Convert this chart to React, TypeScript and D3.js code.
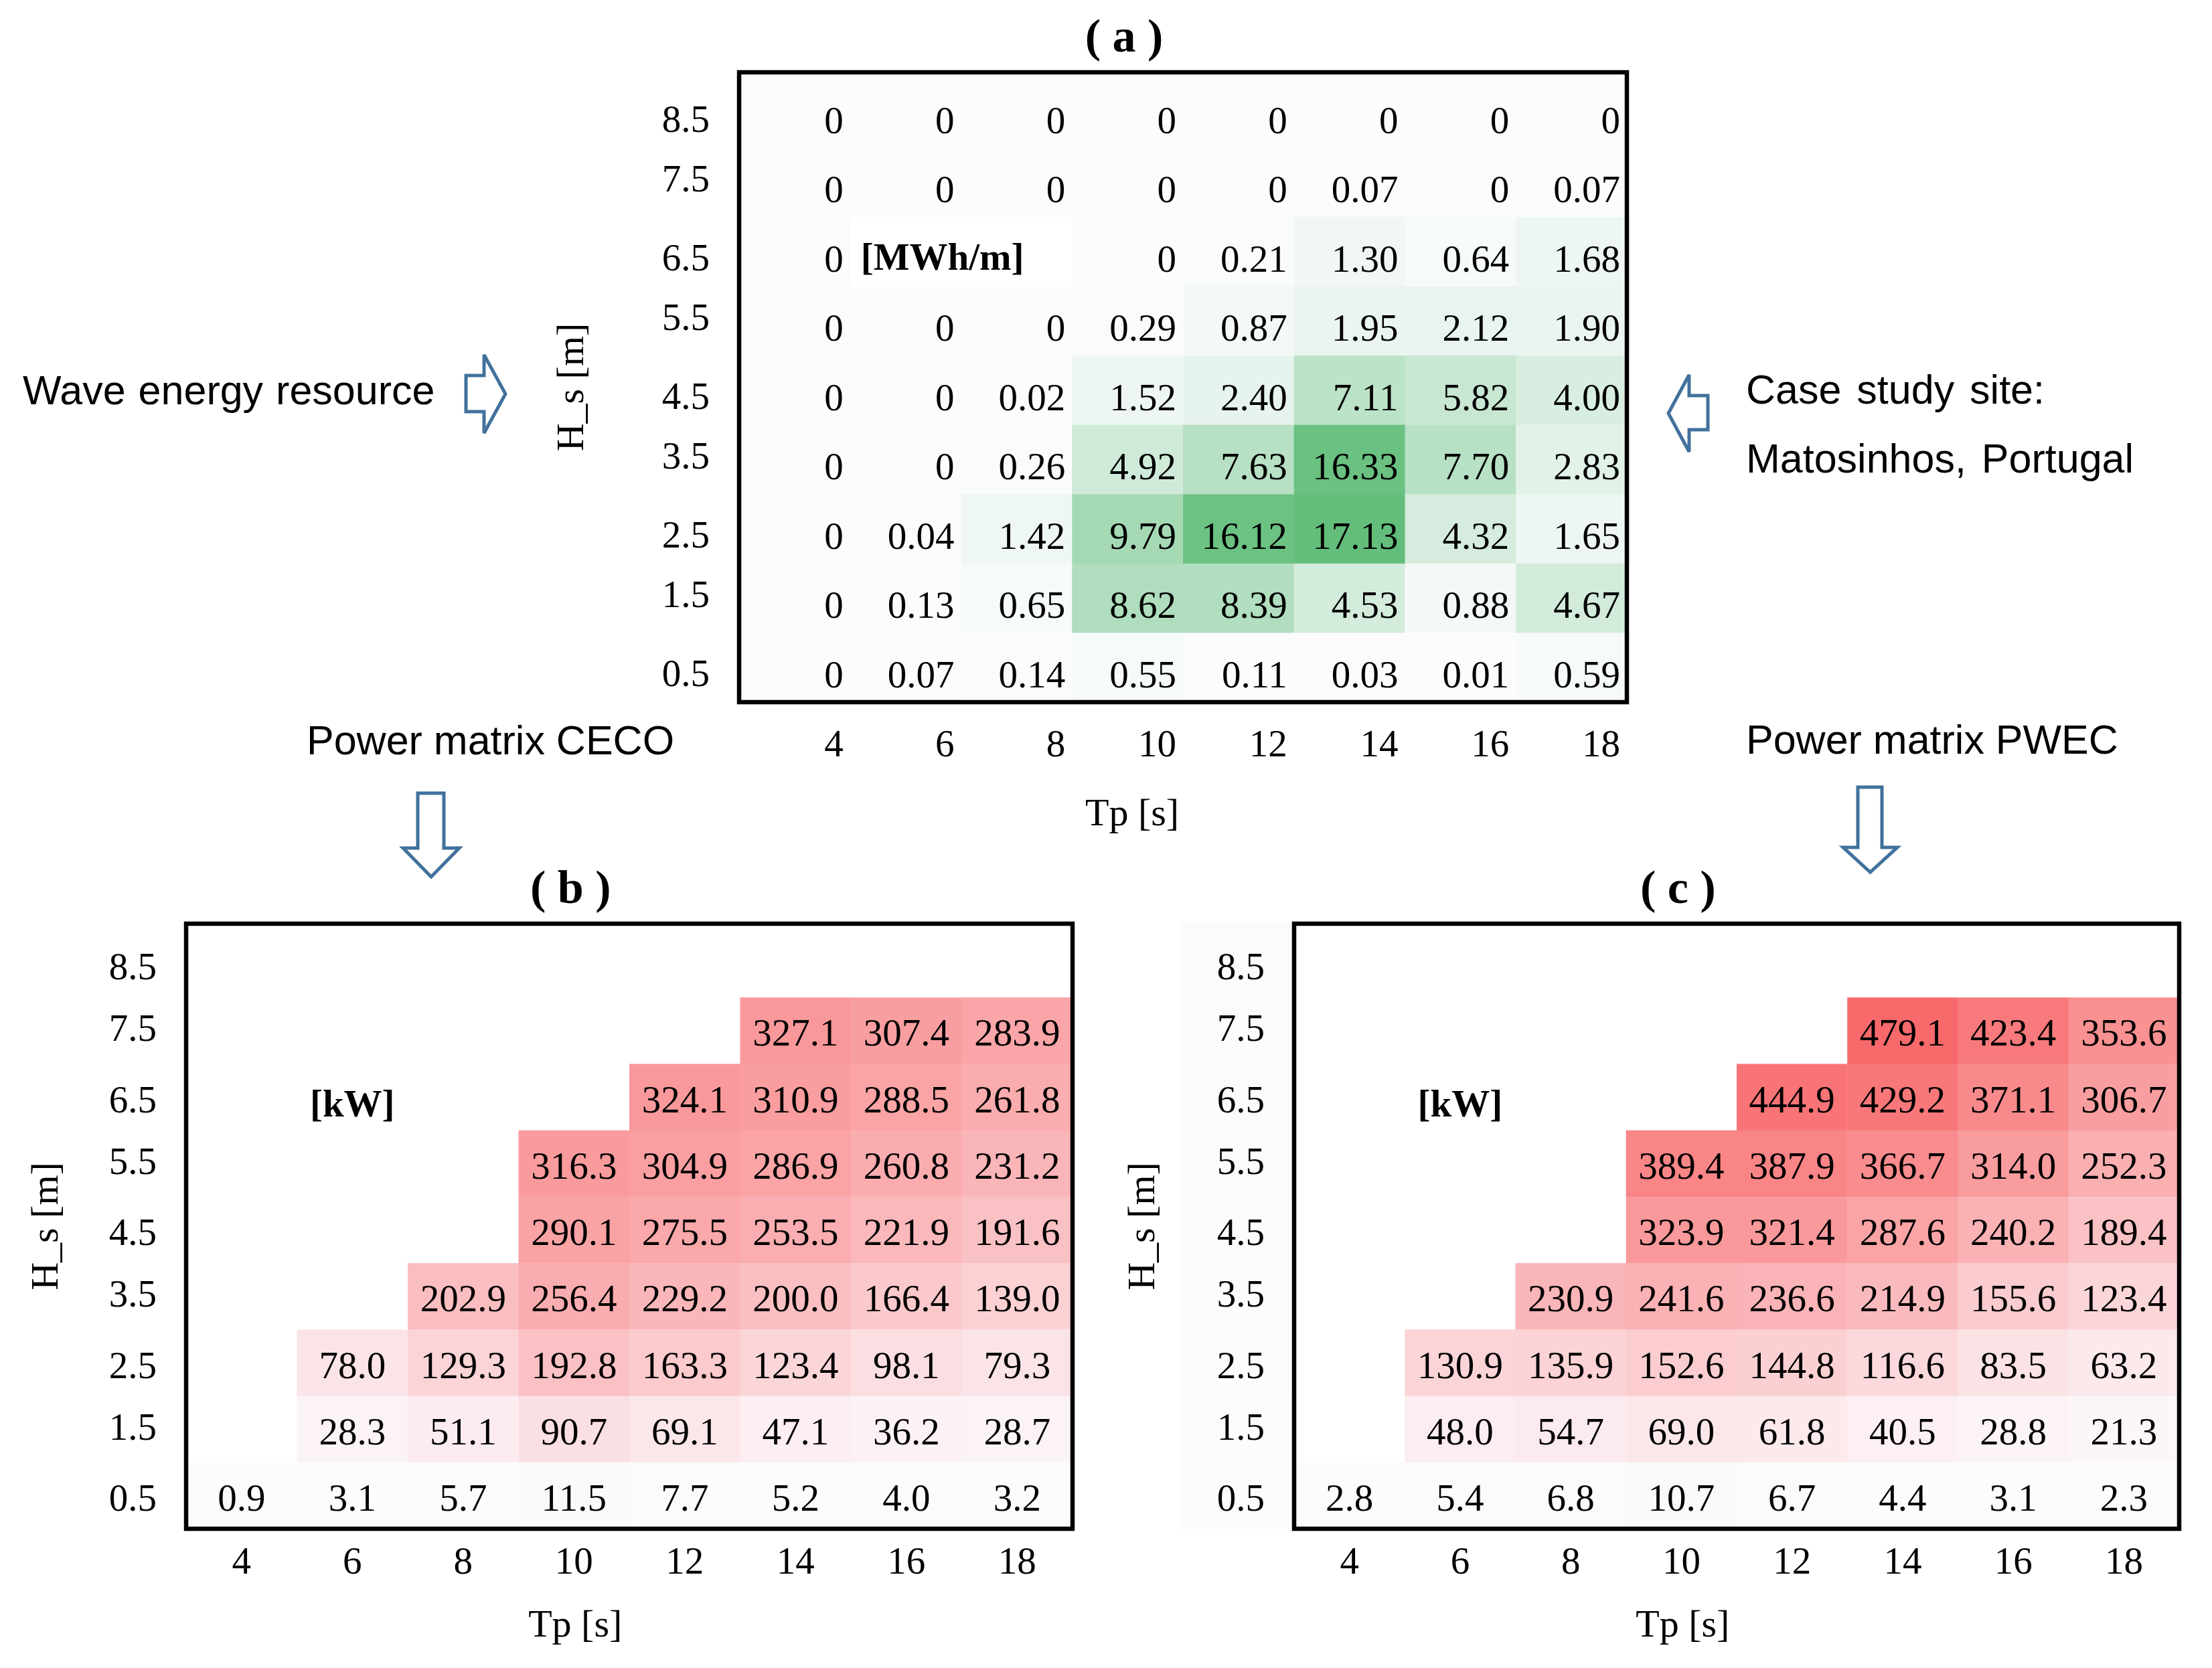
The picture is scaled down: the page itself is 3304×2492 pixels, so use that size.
import React from "react";
import * as d3 from "d3";

// ---------- data ----------
const tpLabels = [4, 6, 8, 10, 12, 14, 16, 18];
const hsLabels = [8.5, 7.5, 6.5, 5.5, 4.5, 3.5, 2.5, 1.5, 0.5];

// (a) wave energy resource [MWh/m], rows from Hs 8.5 (top) to 0.5 (bottom)
const energy85 = [0, 0, 0, 0, 0, 0, 0, 0];
const energy75 = [0, 0, 0, 0, 0, 0.07, 0, 0.07];
const energy65 = [0, null, null, 0, 0.21, 1.3, 0.64, 1.68];
const energy55 = [0, 0, 0, 0.29, 0.87, 1.95, 2.12, 1.9];
const energy45 = [0, 0, 0.02, 1.52, 2.4, 7.11, 5.82, 4.0];
const energy35 = [0, 0, 0.26, 4.92, 7.63, 16.33, 7.7, 2.83];
const energy25 = [0, 0.04, 1.42, 9.79, 16.12, 17.13, 4.32, 1.65];
const energy15 = [0, 0.13, 0.65, 8.62, 8.39, 4.53, 0.88, 4.67];
const energy05 = [0, 0.07, 0.14, 0.55, 0.11, 0.03, 0.01, 0.59];
const energyRows = [energy85, energy75, energy65, energy55, energy45, energy35, energy25, energy15, energy05];

// (b) power matrix CECO [kW]
const ceco85 = [null, null, null, null, null, null, null, null];
const ceco75 = [null, null, null, null, null, 327.1, 307.4, 283.9];
const ceco65 = [null, null, null, null, 324.1, 310.9, 288.5, 261.8];
const ceco55 = [null, null, null, 316.3, 304.9, 286.9, 260.8, 231.2];
const ceco45 = [null, null, null, 290.1, 275.5, 253.5, 221.9, 191.6];
const ceco35 = [null, null, 202.9, 256.4, 229.2, 200.0, 166.4, 139.0];
const ceco25 = [null, 78.0, 129.3, 192.8, 163.3, 123.4, 98.1, 79.3];
const ceco15 = [null, 28.3, 51.1, 90.7, 69.1, 47.1, 36.2, 28.7];
const ceco05 = [0.9, 3.1, 5.7, 11.5, 7.7, 5.2, 4.0, 3.2];
const cecoRows = [ceco85, ceco75, ceco65, ceco55, ceco45, ceco35, ceco25, ceco15, ceco05];

// (c) power matrix PWEC [kW]
const pwec85 = [null, null, null, null, null, null, null, null];
const pwec75 = [null, null, null, null, null, 479.1, 423.4, 353.6];
const pwec65 = [null, null, null, null, 444.9, 429.2, 371.1, 306.7];
const pwec55 = [null, null, null, 389.4, 387.9, 366.7, 314.0, 252.3];
const pwec45 = [null, null, null, 323.9, 321.4, 287.6, 240.2, 189.4];
const pwec35 = [null, null, 230.9, 241.6, 236.6, 214.9, 155.6, 123.4];
const pwec25 = [null, 130.9, 135.9, 152.6, 144.8, 116.6, 83.5, 63.2];
const pwec15 = [null, 48.0, 54.7, 69.0, 61.8, 40.5, 28.8, 21.3];
const pwec05 = [2.8, 5.4, 6.8, 10.7, 6.7, 4.4, 3.1, 2.3];
const pwecRows = [pwec85, pwec75, pwec65, pwec55, pwec45, pwec35, pwec25, pwec15, pwec05];

// ---------- styling ----------
const W = 3304;
const H = 2492;
const SERIF = "'Liberation Serif', 'Times New Roman', serif";
const SANS = "'Liberation Sans', Arial, sans-serif";
const FS = 57;
const ARROW = "#41719C";

const greenColor = (() => {
  const all = energyRows.flat().filter((v) => v != null) as number[];
  return d3
    .scaleLinear<string>()
    .domain([0, d3.max(all) as number])
    .range(["#FCFCFF", "#63BE7B"])
    .interpolate(d3.interpolateRgb)
    .clamp(true);
})();

const redColor = (() => {
  const all = [...cecoRows.flat(), ...pwecRows.flat(), ...hsLabels].filter((v) => v != null) as number[];
  return d3
    .scaleLinear<string>()
    .domain([d3.min(all) as number, d3.max(all) as number])
    .range(["#FCFCFF", "#F8696B"])
    .interpolate(d3.interpolateRgb)
    .clamp(true);
})();

type PanelProps = {
  rows: (number | null)[][];
  x0: number;
  x1: number;
  y0: number;
  y1: number;
  bandTop: number;
  color: (v: number) => string;
  fmt: (v: number) => string;
  rightAlign: boolean;
  valueOff: number;
  tickEven: number;
  tickOdd: number;
  xTickY: number;
  xTitleY: number;
  yTitleX: number;
  title: string;
  titleY: number;
  unit: string;
  unitMode: "a" | "b";
  tickColumnX?: number;
};

function Panel(p: PanelProps) {
  const x = d3.scaleBand<number>().domain(tpLabels).range([p.x0, p.x1]).padding(0);
  const y = d3.scaleBand<number>().domain(hsLabels).range([p.bandTop, p.y1]).padding(0);
  const bw = x.bandwidth();
  const bh = y.bandwidth();
  const col4 = (x(10) as number) + bw / 2;
  const yMid = (p.y0 + p.y1) / 2;
  const textX = (t: number) => (p.rightAlign ? (x(t) as number) + bw - 10 : (x(t) as number) + bw / 2);
  const anchor = p.rightAlign ? "end" : "middle";
  const unitRow = 6.5;
  const unitBottom = (y(unitRow) as number) + bh;

  return (
    <g>
      {p.tickColumnX != null &&
        hsLabels.map((h, i) => {
          const top = i === 0 ? p.y0 - 3 : (y(h) as number);
          return (
            <rect
              key={"tc" + i}
              x={p.tickColumnX}
              y={top}
              width={p.x0 - 3 - (p.tickColumnX as number)}
              height={(y(h) as number) + bh - top + 0.5}
              fill={p.color(h)}
            />
          );
        })}
      {p.rows.map((row, i) =>
        row.map((v, j) => {
          if (v == null) return null;
          const h = hsLabels[i];
          const t = tpLabels[j];
          const top = i === 0 ? p.y0 : (y(h) as number);
          return (
            <rect
              key={`c${i}-${j}`}
              x={x(t)}
              y={top}
              width={bw + 0.5}
              height={(y(h) as number) + bh - top + 0.5}
              fill={p.color(v)}
            />
          );
        })
      )}
      {p.unitMode === "a" ? (
        <g>
          <rect x={x(6)} y={y(unitRow)} width={bw * 2} height={bh} fill="#ffffff" />
          <text x={(x(6) as number) + 16} y={unitBottom - 25} fontFamily={SERIF} fontSize={FS} fontWeight="bold">
            {p.unit}
          </text>
        </g>
      ) : (
        <text
          x={(x(6) as number) + bw / 2}
          y={unitBottom - 21}
          fontFamily={SERIF}
          fontSize={FS}
          fontWeight="bold"
          textAnchor="middle"
        >
          {p.unit}
        </text>
      )}
      {p.rows.map((row, i) =>
        row.map((v, j) => {
          if (v == null) return null;
          const h = hsLabels[i];
          const t = tpLabels[j];
          return (
            <text
              key={`v${i}-${j}`}
              x={textX(t)}
              y={(y(h) as number) + bh - p.valueOff}
              fontFamily={SERIF}
              fontSize={FS}
              textAnchor={anchor}
            >
              {p.fmt(v)}
            </text>
          );
        })
      )}
      {hsLabels.map((h, i) => (
        <text
          key={"yt" + i}
          x={p.x0 - 44}
          y={(y(h) as number) + bh - (i % 2 === 1 ? p.tickOdd : p.tickEven)}
          fontFamily={SERIF}
          fontSize={FS}
          textAnchor="end"
        >
          {h.toFixed(1)}
        </text>
      ))}
      {tpLabels.map((t, j) => (
        <text key={"xt" + j} x={textX(t)} y={p.xTickY} fontFamily={SERIF} fontSize={FS} textAnchor={anchor}>
          {t}
        </text>
      ))}
      <rect x={p.x0} y={p.y0} width={p.x1 - p.x0} height={p.y1 - p.y0} fill="none" stroke="#000" strokeWidth={6.5} />
      <text x={col4 + (p.rightAlign ? 7 : 2)} y={p.xTitleY} fontFamily={SERIF} fontSize={FS + 1} textAnchor="middle">
        Tp [s]
      </text>
      <text
        transform={`translate(${p.yTitleX},${yMid}) rotate(-90)`}
        fontFamily={SERIF}
        fontSize={FS + 1}
        textAnchor="middle"
      >
        H_s [m]
      </text>
      <text x={col4 - 5} y={p.titleY} fontFamily={SERIF} fontSize={70} fontWeight="bold" textAnchor="middle">
        {p.title}
      </text>
    </g>
  );
}

function HArrow({ x0, xb, xt, sy0, sy1, hy0, hy1 }: any) {
  const ym = (hy0 + hy1) / 2;
  const d = `M${x0},${sy0} L${xb},${sy0} L${xb},${hy0} L${xt},${ym} L${xb},${hy1} L${xb},${sy1} L${x0},${sy1} Z`;
  return <path d={d} fill="#fff" stroke={ARROW} strokeWidth={5} />;
}

function DownArrow({ y0, yb, yt, sx0, sx1, hx0, hx1 }: any) {
  const xm = (hx0 + hx1) / 2;
  const d = `M${sx0},${y0} L${sx1},${y0} L${sx1},${yb} L${hx1},${yb} L${xm},${yt} L${hx0},${yb} L${sx0},${yb} Z`;
  return <path d={d} fill="#fff" stroke={ARROW} strokeWidth={5} />;
}

const fmtA = (v: number) => (v === 0 ? "0" : v.toFixed(2));
const fmtB = (v: number) => v.toFixed(1);

export default function App() {
  return (
    <div style={{ position: "absolute", left: 0, top: 0 }}>
      <svg width={W} height={H} viewBox={`0 0 ${W} ${H}`} style={{ display: "block", background: "#fff" }}>
        <rect x={0} y={0} width={W} height={H} fill="#fff" />
        <Panel
          rows={energyRows}
          x0={1104}
          x1={2430}
          y0={108}
          y1={1049}
          bandTop={117}
          color={greenColor}
          fmt={fmtA}
          rightAlign={true}
          valueOff={22}
          tickEven={24}
          tickOdd={38}
          xTickY={1130}
          xTitleY={1233}
          yTitleX={871}
          title="( a )"
          titleY={77}
          unit="[MWh/m]"
          unitMode="a"
        />
        <Panel
          rows={cecoRows}
          x0={278}
          x1={1602}
          y0={1380}
          y1={2284}
          bandTop={1391}
          color={redColor}
          fmt={fmtB}
          rightAlign={false}
          valueOff={27}
          tickEven={27}
          tickOdd={34}
          xTickY={2351}
          xTitleY={2445}
          yTitleX={86}
          title="( b )"
          titleY={1349}
          unit="[kW]"
          unitMode="b"
        />
        <Panel
          rows={pwecRows}
          x0={1933}
          x1={3255}
          y0={1380}
          y1={2284}
          bandTop={1391}
          color={redColor}
          fmt={fmtB}
          rightAlign={false}
          valueOff={27}
          tickEven={27}
          tickOdd={34}
          xTickY={2351}
          xTitleY={2445}
          yTitleX={1724}
          title="( c )"
          titleY={1349}
          unit="[kW]"
          unitMode="b"
          tickColumnX={1764}
        />

        <text x={34} y={604} fontFamily={SANS} fontSize={61} wordSpacing={2}>
          Wave energy resource
        </text>
        <text x={2608} y={603} fontFamily={SANS} fontSize={61} wordSpacing={6}>
          Case study site:
        </text>
        <text x={2608} y={706} fontFamily={SANS} fontSize={61} wordSpacing={6}>
          Matosinhos, Portugal
        </text>
        <text x={458} y={1127} fontFamily={SANS} fontSize={61}>
          Power matrix CECO
        </text>
        <text x={2608} y={1126} fontFamily={SANS} fontSize={61}>
          Power matrix PWEC
        </text>

        <HArrow x0={696} xb={723} xt={755} sy0={561} sy1={615} hy0={530} hy1={647} />
        <HArrow x0={2551} xb={2523} xt={2492} sy0={591} sy1={642} hy0={560} hy1={675} />
        <DownArrow y0={1185} yb={1267} yt={1310} sx0={624} sx1={663} hx0={602} hx1={686} />
        <DownArrow y0={1176} yb={1266} yt={1303} sx0={2775} sx1={2811} hx0={2753} hx1={2834} />
      </svg>
    </div>
  );
}
